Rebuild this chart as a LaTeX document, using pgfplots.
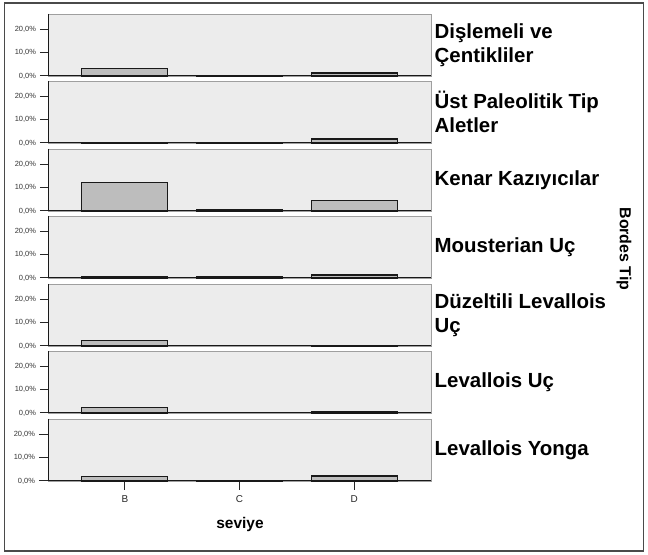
\documentclass[border=0pt]{standalone}
\usepackage{pgfplots}
\pgfplotsset{compat=1.18}
\usepackage{fontspec}
\setmainfont{Liberation Sans}
\definecolor{panelbg}{HTML}{ECECEC}
\definecolor{barfill}{HTML}{BDBDBD}
\definecolor{framec}{HTML}{4A4A4A}
\pgfplotsset{
 panel/.style={
  scale only axis, width=383bp, height=62bp, anchor=south west,
  xmin=-0.67, xmax=2.67, ymin=0, ymax=26.5, clip=false,
  ytick={0,10,20}, yticklabels={{0,0\%},{10,0\%},{20,0\%}},
  xtick=\empty,
  ybar, bar width=86bp, bar shift=0pt,
  axis background/.style={fill=panelbg},
  axis line style={draw=gray!75, line width=0.8bp},
  tick align=outside, major tick length=8bp,
  ytick pos=left, xtick pos=bottom,
  ytick style={black!85, line width=1bp},
  yticklabel style={font=\fontsize{7.5}{8}\selectfont, text=black!80, xshift=-0.5bp},
 },
}
\tikzset{
 lab/.style={anchor=west, align=left, inner sep=0.5bp, xshift=3bp,
  font=\bfseries\fontsize{20.5}{24.5}\selectfont},
 barst/.style={fill=barfill, draw=black!90, line width=1.2bp},
}
\newcommand{\leftbottom}{\draw[black!90, line width=1bp] (rel axis cs:0,1) -- (rel axis cs:0,0) -- (rel axis cs:1,0);}
\begin{document}
\begin{tikzpicture}[x=1bp,y=1bp]
\useasboundingbox (0,0) rectangle (648,555);
\draw[framec, line width=1.6bp] (4.5,4) rectangle (643.5,552);

\begin{axis}[panel, at={(48bp,479bp)}]
\addplot[barst] coordinates {(0,3.2) (1,0.3) (2,1.3)};
\leftbottom
\node[lab] at (rel axis cs:1,0.5) {Dişlemeli ve\\Çentikliler};
\end{axis}

\begin{axis}[panel, at={(48bp,412bp)}]
\addplot[barst] coordinates {(0,0.2) (1,0.2) (2,1.7)};
\leftbottom
\node[lab] at (rel axis cs:1,0.5) {Üst Paleolitik Tip\\Aletler};
\end{axis}

\begin{axis}[panel, at={(48bp,344bp)}]
\addplot[barst] coordinates {(0,12.3) (1,0.7) (2,4.6)};
\leftbottom
\node[lab] at (rel axis cs:1,0.5) {Kenar Kazıyıcılar};
\end{axis}

\begin{axis}[panel, at={(48bp,277bp)}]
\addplot[barst] coordinates {(0,0.8) (1,0.4) (2,1.3)};
\leftbottom
\node[lab] at (rel axis cs:1,0.5) {Mousterian Uç};
\end{axis}

\begin{axis}[panel, at={(48bp,209bp)}]
\addplot[barst] coordinates {(0,2.2) (2,0.3)};
\leftbottom
\node[lab] at (rel axis cs:1,0.5) {Düzeltili Levallois\\Uç};
\end{axis}

\begin{axis}[panel, at={(48bp,142bp)}]
\addplot[barst] coordinates {(0,2.3) (2,0.4)};
\leftbottom
\node[lab] at (rel axis cs:1,0.5) {Levallois Uç};
\end{axis}

\begin{axis}[panel, at={(48bp,74bp)},
  xtick={0,1,2}, xticklabels={B,C,D}, major tick length=9bp,
  xtick style={black!85, line width=1bp},
  xticklabel style={font=\fontsize{10}{11}\selectfont, text=black!85, yshift=-2bp}]
\addplot[barst] coordinates {(0,2.0) (1,0.3) (2,2.1)};
\leftbottom
\node[lab] at (rel axis cs:1,0.5) {Levallois Yonga};
\end{axis}

\node[font=\bfseries\fontsize{15.5}{17}\selectfont] at (240,30) {seviye};
\node[rotate=-90, font=\bfseries\fontsize{16}{17}\selectfont] at (624,306) {Bordes Tip};
\end{tikzpicture}
\end{document}
